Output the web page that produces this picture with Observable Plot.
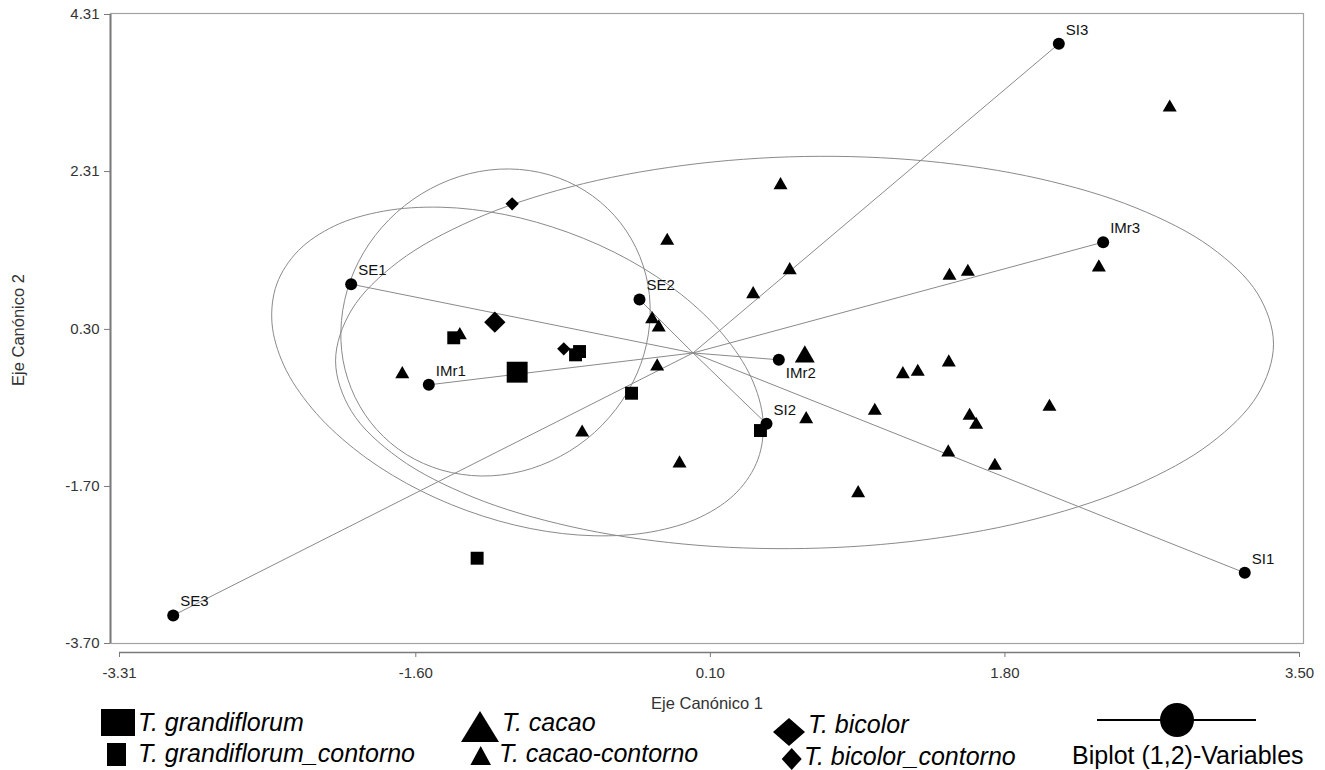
<!DOCTYPE html>
<html>
<head>
<meta charset="utf-8">
<script src="https://cdn.jsdelivr.net/npm/d3@7"></script>
<script src="https://cdn.jsdelivr.net/npm/@observablehq/plot@0.6"></script>
<style>
  body { margin: 0; background: #fff; }
  #wrap { position: relative; width: 1325px; height: 770px; font-family: "Liberation Sans", Arial, sans-serif; }
  #legend { position: absolute; left: 0; top: 697px; }
</style>
</head>
<body>
<div id="wrap"></div>
<script>
// ---- axes ----
const xDomain = [-3.31, 3.50];
const yDomain = [-3.70, 4.31];
const xTicks = [-3.31, -1.60, 0.10, 1.80, 3.50];
const yTicks = [-3.70, -1.70, 0.30, 2.31, 4.31];
const xLabel = "Eje Canónico 1";
const yLabel = "Eje Canónico 2";

// ---- T. cacao-contorno (small triangles) ----
const cacaoContX = [0.505, -0.149, 0.558, 0.347, -0.236, -0.198, -1.346, 2.751, 2.342, 1.480, 1.586, -1.678, -0.207,
                    1.049, 0.653, -0.640, -0.078, 0.953, 1.476, 1.211, 1.297, 2.057, 1.596, 1.634, 1.473, 1.742];
const cacaoContY = [2.137, 1.429, 1.054, 0.749, 0.430, 0.325, 0.227, 3.126, 1.089, 0.983, 1.034, -0.270, -0.172,
                    -0.736, -0.843, -1.013, -1.407, -1.785, -0.121, -0.270, -0.240, -0.685, -0.800, -0.915, -1.267, -1.437];

// ---- T. grandiflorum_contorno (small squares) ----
const grandContX = [-1.381, -0.678, -0.655, -0.355, 0.389, -1.246];
const grandContY = [0.193, -0.024, 0.018, -0.513, -0.988, -2.614];

// ---- T. bicolor_contorno (small diamonds) ----
const bicolorContX = [-1.044, -0.746];
const bicolorContY = [1.899, 0.053];

// ---- group centroids ----
const centroidNames = ["T. grandiflorum", "T. cacao", "T. bicolor"];
const centroidX = [-1.015, 0.645, -1.144];
const centroidY = [-0.245, -0.049, 0.392];

// ---- biplot variables ----
const varNames = ["SE1", "SE2", "SE3", "SI1", "SI2", "SI3", "IMr1", "IMr2", "IMr3"];
const varX = [-1.973, -0.309, -3.000, 3.184, 0.424, 2.111, -1.525, 0.495, 2.367];
const varY = [0.876, 0.681, -3.343, -2.800, -0.902, 3.937, -0.406, -0.087, 1.411];
const varOrigin = [0, 0];
const labelsBelow = ["IMr2"];

// ---- confidence ellipses (outline vertices) ----
const ellGrandX = [0.375, 0.404, 0.336, 0.175, -0.066, -0.371, -0.721, -1.090, -1.455, -1.788, -2.070, -2.279,
                   -2.402, -2.430, -2.362, -2.201, -1.960, -1.655, -1.305, -0.936, -0.572, -0.238, 0.044, 0.253];
const ellGrandY = [-1.352, -0.855, -0.316, 0.229, 0.741, 1.186, 1.535, 1.764, 1.856, 1.805, 1.617, 1.300,
                   0.879, 0.383, -0.156, -0.701, -1.213, -1.659, -2.008, -2.237, -2.328, -2.278, -2.089, -1.772];
const ellCacaoX = [3.350, 3.258, 2.988, 2.557, 1.997, 1.344, 0.643, -0.057, -0.710, -1.270, -1.701, -1.971,
                   -2.063, -1.971, -1.701, -1.270, -0.710, -0.057, 0.643, 1.344, 1.997, 2.557, 2.988, 3.258];
const ellCacaoY = [0.113, 0.756, 1.347, 1.847, 2.220, 2.444, 2.502, 2.388, 2.113, 1.694, 1.161, 0.547,
                   -0.101, -0.744, -1.335, -1.836, -2.209, -2.433, -2.490, -2.377, -2.102, -1.683, -1.149, -0.536];
const ellBicolorX = [-0.454, -0.625, -0.831, -1.059, -1.291, -1.514, -1.711, -1.870, -1.978, -2.029, -2.020, -1.950,
                     -1.826, -1.655, -1.449, -1.221, -0.989, -0.766, -0.569, -0.411, -0.302, -0.251, -0.260, -0.330];
const ellBicolorY = [1.750, 2.067, 2.269, 2.343, 2.283, 2.093, 1.789, 1.387, 0.920, 0.414, -0.092, -0.566,
                     -0.975, -1.292, -1.493, -1.567, -1.507, -1.317, -1.013, -0.612, -0.145, 0.361, 0.868, 1.342];

// ---- build tables ----
const pts = (xs, ys) => xs.map((x, i) => ({x, y: ys[i]}));
const vars = varNames.map((name, i) => ({name, x: varX[i], y: varY[i]}));
const ellipses = [
  ["T. grandiflorum", ellGrandX, ellGrandY],
  ["T. cacao", ellCacaoX, ellCacaoY],
  ["T. bicolor", ellBicolorX, ellBicolorY]
].flatMap(([g, xs, ys]) => xs.map((x, i) => ({g, x, y: ys[i]})));
const centroid = name => { const i = centroidNames.indexOf(name); return [{x: centroidX[i], y: centroidY[i]}]; };
const fmt = d => d.toFixed(2);
const font = "'Liberation Sans', Arial, sans-serif";

const chart = Plot.plot({
  width: 1325,
  height: 712,
  marginLeft: 110,
  marginRight: 22,
  marginTop: 13,
  marginBottom: 60,
  x: {domain: xDomain, range: [119, 1299]},
  y: {domain: yDomain, range: [643, 14]},
  style: {fontFamily: font, fontSize: "15px", color: "#333", background: "#fff"},
  marks: [
    Plot.frame({stroke: "#a3a3a3", strokeWidth: 1.2, insetBottom: 9}),
    Plot.ruleX([xDomain[0]], {y1: yDomain[0], y2: yDomain[1], dx: -9, stroke: "#7a7a7a", strokeWidth: 2}),
    Plot.ruleY([yDomain[0]], {x1: xDomain[0], x2: xDomain[1], dy: 9, stroke: "#7a7a7a", strokeWidth: 1.5}),
    Plot.axisY(yTicks, {anchor: "left", tickSize: 6, tickPadding: 5, tickFormat: fmt, stroke: "#7a7a7a", fill: "#333", fontSize: 15, label: null}),
    Plot.axisX(xTicks, {anchor: "bottom", tickSize: 5, tickPadding: 10, tickFormat: fmt, stroke: "#7a7a7a", fill: "#333", fontSize: 15, label: null}),
    Plot.text([xLabel], {frameAnchor: "bottom", text: d => d, textAnchor: "middle", lineAnchor: "middle", dy: 51, fontSize: 16.5, fill: "#333"}),
    Plot.text([yLabel], {frameAnchor: "left", text: d => d, rotate: -90, textAnchor: "middle", lineAnchor: "middle", dx: -92, dy: -3, fontSize: 16.5, fill: "#333"}),
    // ellipses
    Plot.line(ellipses, {x: "x", y: "y", z: "g", curve: "catmull-rom-closed", stroke: "#8a8a8a", strokeWidth: 1}),
    // biplot vectors
    Plot.link(vars, {x1: () => varOrigin[0], y1: () => varOrigin[1], x2: "x", y2: "y", stroke: "#8a8a8a", strokeWidth: 1}),
    // observations
    Plot.dot(pts(cacaoContX, cacaoContY), {x: "x", y: "y", symbol: "triangle", r: 5.2, fill: "#000"}),
    Plot.dot(pts(grandContX, grandContY), {x: "x", y: "y", symbol: "square", r: 7.3, fill: "#000"}),
    Plot.dot(pts(bicolorContX, bicolorContY), {x: "x", y: "y", symbol: "diamond2", r: 6, fill: "#000"}),
    // centroids
    Plot.dot(centroid("T. grandiflorum"), {x: "x", y: "y", symbol: "square", r: 11.8, fill: "#000"}),
    Plot.dot(centroid("T. cacao"), {x: "x", y: "y", symbol: "triangle", r: 7.4, fill: "#000"}),
    Plot.dot(centroid("T. bicolor"), {x: "x", y: "y", symbol: "diamond2", r: 9.6, fill: "#000"}),
    // variables
    Plot.dot(vars, {x: "x", y: "y", r: 6, fill: "#000"}),
    Plot.text(vars, {filter: d => !labelsBelow.includes(d.name), x: "x", y: "y", text: "name", textAnchor: "start", dx: 7, dy: -14, fontSize: 15, fill: "#111"}),
    Plot.text(vars, {filter: d => labelsBelow.includes(d.name), x: "x", y: "y", text: "name", textAnchor: "start", dx: 7, dy: 13, fontSize: 15, fill: "#111"})
  ]
});

const wrap = document.getElementById("wrap");
wrap.append(chart);

// ---- legend (below the plot) ----
const legend = document.createElement("div");
legend.id = "legend";
legend.innerHTML = `
<svg width="1325" height="73" font-family="'Liberation Sans', Arial, sans-serif" font-size="25" fill="#000">
  <rect x="101" y="12" width="34" height="27"/>
  <text x="138" y="34" font-style="italic">${centroidNames[0]}</text>
  <rect x="107" y="46" width="19" height="23"/>
  <text x="138" y="65" font-style="italic">${centroidNames[0]}_contorno</text>

  <path d="M480,14L499,45L461,45Z"/>
  <text x="502" y="34" font-style="italic">${centroidNames[1]}</text>
  <path d="M480.7,49L491,68L470.4,68Z"/>
  <text x="499" y="65" font-style="italic">${centroidNames[1]}-contorno</text>

  <path d="M789,21L805,35L789,49L773,35Z"/>
  <text x="808" y="36" font-style="italic">${centroidNames[2]}</text>
  <path d="M791.7,51L801.7,62L791.7,73L781.7,62Z"/>
  <text x="804" y="68" font-style="italic">${centroidNames[2]}_contorno</text>

  <line x1="1097" x2="1256" y1="23" y2="23" stroke="#000" stroke-width="2"/>
  <circle cx="1177" cy="23" r="17"/>
  <text x="1072" y="67">Biplot (1,2)-Variables</text>
</svg>`;
wrap.append(legend);
</script>
</body>
</html>
